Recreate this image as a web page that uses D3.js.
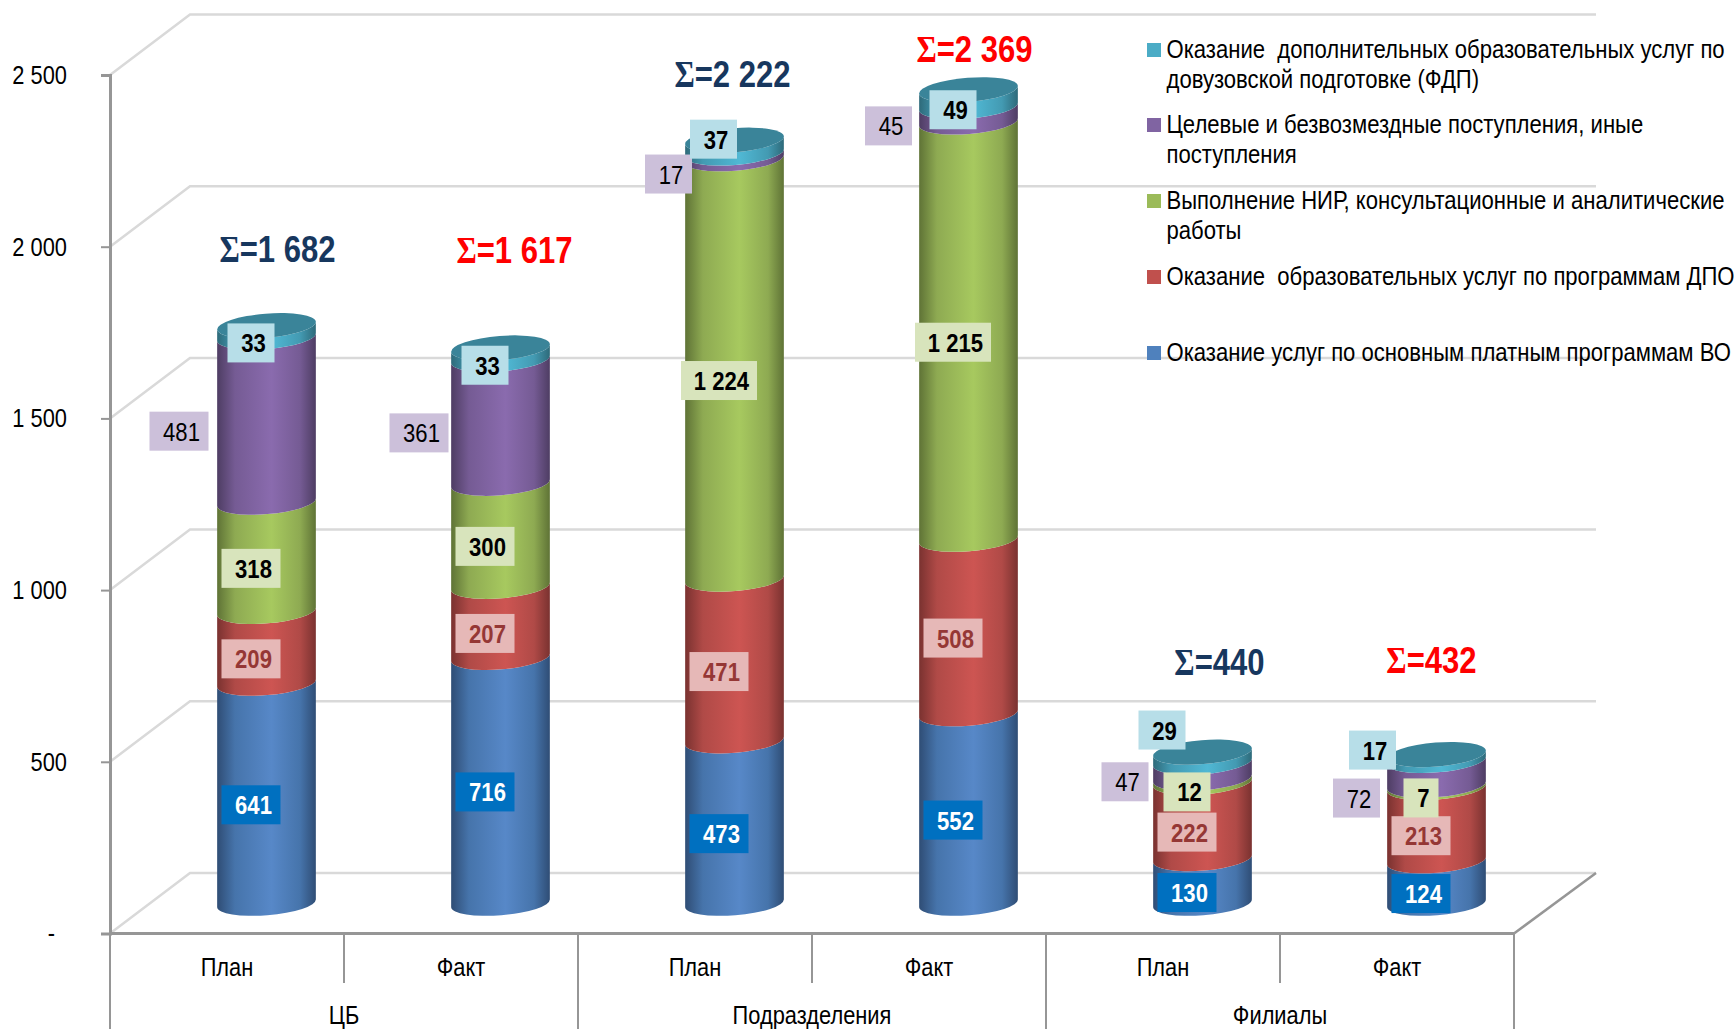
<!DOCTYPE html>
<html>
<head>
<meta charset="utf-8">
<script src="https://cdnjs.cloudflare.com/ajax/libs/d3/7.8.5/d3.min.js"></script>
<style>
    html, body { margin: 0; padding: 0; background: #fff; }
    svg { display: block; }
    text { font-family: "Liberation Sans", Arial, sans-serif; }
</style>
</head>
<body>
<script>
var categories = ['План', 'Факт', 'План', 'Факт', 'План', 'Факт'];
var groups = ['ЦБ', 'Подразделения', 'Филиалы'];
var yTicks = [0, 500, 1000, 1500, 2000, 2500];

// bottom to top
var seriesKeys = ['vo', 'dpo', 'nir', 'other', 'fdp'];
var seriesVo = [641, 716, 473, 552, 130, 124];
var seriesDpo = [209, 207, 471, 508, 222, 213];
var seriesNir = [318, 300, 1224, 1215, 12, 7];
var seriesOther = [481, 361, 17, 45, 47, 72];
var seriesFdp = [33, 33, 37, 49, 29, 17];
var totals = ['1 682', '1 617', '2 222', '2 369', '440', '432'];

// top to bottom, lines as they wrap
var legendLabels = [
    ['Оказание  дополнительных образовательных услуг по', 'довузовской подготовке (ФДП)'],
    ['Целевые и безвозмездные поступления, иные', 'поступления'],
    ['Выполнение НИР, консультационные и аналитические', 'работы'],
    ['Оказание  образовательных услуг по программам ДПО'],
    ['Оказание услуг по основным платным программам ВО']
];

var chartWidth = 1734;
var chartHeight = 1029;
var axisX = 110;
var axisRight = 1514;
var backRight = 1596;
var baseY = 933.5;
var topY = 75;
var depthX = 80;
var depthY = 60.5;
var barRx = 49.5;
var barRy = 12;
var tilt = 4.6;

var colors = {
    vo: { edge: '#2f4d75', mid: '#4674ab', peak: '#5788c8', label: '#0070c0', text: '#fff', weight: 'bold' },
    dpo: { edge: '#7a3230', mid: '#b04a47', peak: '#cd5552', label: '#e6b8b7', text: '#953735', weight: 'bold' },
    nir: { edge: '#5f7336', mid: '#8eaa52', peak: '#a7c95f', label: '#d8e4bc', text: '#000', weight: 'bold' },
    other: { edge: '#4e3d63', mid: '#755b94', peak: '#8a6bae', label: '#ccc0da', text: '#000', weight: 'normal' },
    fdp: { edge: '#2e6a7a', mid: '#439ab2', peak: '#50b8d4', label: '#b7dee8', text: '#000', weight: 'bold' }
};
var legendColors = ['#4bacc6', '#8064a2', '#9bbb59', '#c0504d', '#4f81bd'];
var capColor = '#3a8499';

// hand-moved data labels: series, column, dx, dy from the default place
var labelNudges = [
    ['other', 0, -72, 0], ['other', 1, -66, 0], ['other', 2, -50.5, 6.6], ['other', 3, -64.5, 0],
    ['other', 4, -62, 0], ['other', 5, -64.5, 13.7],
    ['fdp', 2, -5.5, -19], ['fdp', 4, -25, -38.7], ['fdp', 5, -48.5, -19]
];
// where each total sits against the top of its bar
var totalNudges = [[11, -94], [14, -115.5], [-2, -83], [6, -58], [17, -107], [-5, -112]];

// no narrow face installed, so squeeze the regular one around its own x
function narrow(sel, k) {
    sel.attr('transform', function() {
        var tx = +this.getAttribute('x') || 0;
        return 'translate(' + tx + ',0) scale(' + k + ',1) translate(' + (-tx) + ',0)';
    });
}

var rows = categories.map(function(c, i) {
    return { i: i, vo: seriesVo[i], dpo: seriesDpo[i], nir: seriesNir[i], other: seriesOther[i], fdp: seriesFdp[i] };
});
var stacked = d3.stack().keys(seriesKeys)(rows);

var x = d3.scaleBand().domain(d3.range(categories.length)).range([axisX, axisRight]);
var y = d3.scaleLinear().domain([0, 2500]).range([baseY, topY]);

var svg = d3.select('body').append('svg')
    .attr('width', chartWidth)
    .attr('height', chartHeight);

var grads = svg.append('defs').selectAll('linearGradient')
    .data(seriesKeys)
    .enter()
    .append('linearGradient')
    .attr('id', function(d) { return 'grad-' + d; });
grads.append('stop').attr('offset', '0%').attr('stop-color', function(d) { return colors[d].edge; });
grads.append('stop').attr('offset', '18%').attr('stop-color', function(d) { return colors[d].mid; });
grads.append('stop').attr('offset', '55%').attr('stop-color', function(d) { return colors[d].peak; });
grads.append('stop').attr('offset', '84%').attr('stop-color', function(d) { return colors[d].mid; });
grads.append('stop').attr('offset', '100%').attr('stop-color', function(d) { return colors[d].edge; });

// walls
var walls = svg.append('g').attr('fill', 'none').attr('stroke', '#d9d9d9').attr('stroke-width', 2.5);
walls.selectAll('.grid')
    .data(yTicks)
    .enter()
    .append('path')
    .classed('grid', true)
    .attr('d', function(d) {
        return 'M' + axisX + ',' + y(d) + 'L' + (axisX + depthX) + ',' + (y(d) - depthY) + 'L' + backRight + ',' + (y(d) - depthY);
    });

var axis = d3.axisLeft(y)
    .tickValues(yTicks)
    .tickSize(9)
    .tickPadding(34)
    .tickFormat(function(d) {
        if (d === 0) return '-';
        return d3.format(',')(d).replace(',', ' ');
    });
var axisG = svg.append('g').attr('transform', 'translate(' + axisX + ',0)').call(axis);
axisG.select('.domain').attr('stroke', '#969696').attr('stroke-width', 3);
axisG.selectAll('.tick line').attr('stroke', '#969696').attr('stroke-width', 2);
axisG.selectAll('.tick text')
    .attr('fill', '#000')
    .style('font-family', '"Liberation Sans", Arial, sans-serif')
    .style('font-size', '26px')
    .attr('x', function(d) { return d === 0 ? -55 : -43; })
    .call(narrow, 0.84);

// floor edges and category table
var frame = svg.append('g').attr('fill', 'none').attr('stroke', '#969696');
frame.append('path').attr('stroke-width', 3)
    .attr('d', 'M' + axisX + ',' + baseY + 'H' + axisRight);
frame.append('path').attr('stroke-width', 2.5)
    .attr('d', 'M' + axisRight + ',' + baseY + 'L' + backRight + ',' + (baseY - depthY));
frame.selectAll('.sep')
    .data(d3.range(categories.length + 1))
    .enter()
    .append('line')
    .classed('sep', true)
    .attr('stroke-width', 2)
    .attr('x1', function(d) { return axisX + d * x.bandwidth(); })
    .attr('x2', function(d) { return axisX + d * x.bandwidth(); })
    .attr('y1', baseY)
    .attr('y2', function(d) { return d % 2 === 0 ? chartHeight : 983; });

svg.selectAll('.catLabel')
    .data(categories)
    .enter()
    .append('text')
    .classed('catLabel', true)
    .attr('x', function(d, i) { return x(i) + x.bandwidth() / 2; })
    .attr('y', 976)
    .attr('text-anchor', 'middle')
    .style('font-size', '26px')
    .text(function(d) { return d; })
    .call(narrow, 0.84);

svg.selectAll('.groupLabel')
    .data(groups)
    .enter()
    .append('text')
    .classed('groupLabel', true)
    .attr('x', function(d, i) { return axisX + (i + 0.5) * 2 * x.bandwidth(); })
    .attr('y', 1024)
    .attr('text-anchor', 'middle')
    .style('font-size', '26px')
    .text(function(d) { return d; })
    .call(narrow, 0.84);

// cylinders
var rad = tilt * Math.PI / 180;
var ex = barRx * Math.cos(rad);
var ey = barRx * Math.sin(rad);

function barX(i) { return x(i) + x.bandwidth() / 2 + depthX / 2 - 0.5; }
function barY(v) { return y(v) - depthY / 2; }

function slicePath(i, v0, v1) {
    var cx = barX(i);
    var arc = 'A' + barRx + ',' + barRy + ' ' + (-tilt) + ' 0 ';
    return 'M' + (cx - ex) + ',' + (barY(v0) + ey)
        + 'L' + (cx - ex) + ',' + (barY(v1) + ey)
        + arc + '0 ' + (cx + ex) + ',' + (barY(v1) - ey)
        + 'L' + (cx + ex) + ',' + (barY(v0) - ey)
        + arc + '1 ' + (cx - ex) + ',' + (barY(v0) + ey) + 'Z';
}

var layers = svg.selectAll('.layer')
    .data(stacked)
    .enter()
    .append('g')
    .classed('layer', true)
    .attr('fill', function(d) { return 'url(#grad-' + d.key + ')'; });

layers.selectAll('path')
    .data(function(d) { return d; })
    .enter()
    .append('path')
    .attr('d', function(d) { return slicePath(d.data.i, d[0], d[1]); });

svg.selectAll('.cap')
    .data(stacked[stacked.length - 1])
    .enter()
    .append('ellipse')
    .classed('cap', true)
    .attr('rx', barRx)
    .attr('ry', barRy)
    .attr('fill', capColor)
    .attr('transform', function(d) {
        return 'translate(' + barX(d.data.i) + ',' + barY(d[1]) + ') rotate(' + (-tilt) + ')';
    });

// data labels
var labelData = [];
stacked.forEach(function(s) {
    s.forEach(function(d) {
        var nudge = labelNudges.filter(function(n) { return n[0] === s.key && n[1] === d.data.i; })[0];
        labelData.push({
            key: s.key,
            value: d.data[s.key],
            x: barX(d.data.i) - 15.5 + (nudge ? nudge[2] : 0),
            y: barY((d[0] + d[1]) / 2) + 11.6 + (nudge ? nudge[3] : 0)
        });
    });
});

function fmt(v) { return d3.format(',')(v).replace(',', ' '); }
function labelWidth(v) {
    var s = fmt(v);
    return s.length === 1 ? 35 : s.length === 2 ? 47 : s.length === 3 ? 59 : 76;
}

var labels = svg.selectAll('.dataLabel')
    .data(labelData)
    .enter()
    .append('g')
    .classed('dataLabel', true)
    .attr('transform', function(d) { return 'translate(' + d.x + ',' + d.y + ')'; });

labels.append('rect')
    .attr('x', function(d) { return -labelWidth(d.value) / 2; })
    .attr('y', -19.5)
    .attr('width', function(d) { return labelWidth(d.value); })
    .attr('height', 39)
    .attr('fill', function(d) { return colors[d.key].label; });

labels.append('text')
    .attr('y', 9.5)
    .attr('x', 2.5)
    .attr('text-anchor', 'middle')
    .attr('fill', function(d) { return colors[d.key].text; })
    .style('font-size', '26px')
    .style('font-weight', function(d) { return colors[d.key].weight; })
    .text(function(d) { return fmt(d.value); })
    .call(narrow, 0.85);

// totals
var sums = svg.selectAll('.sum')
    .data(totals)
    .enter()
    .append('text')
    .classed('sum', true)
    .attr('x', function(d, i) { return barX(i) + totalNudges[i][0]; })
    .attr('y', function(d, i) {
        var top = d3.sum(seriesKeys, function(k) { return rows[i][k]; });
        return y(top) + totalNudges[i][1];
    })
    .attr('text-anchor', 'middle')
    .attr('fill', function(d, i) { return i % 2 === 0 ? '#17375e' : '#ff0000'; })
    .style('font-size', '37px')
    .style('font-weight', 'bold');
sums.append('tspan').style('font-family', '"Liberation Serif", serif').text('Σ');
sums.append('tspan').text(function(d) { return '=' + d; });
sums.call(narrow, 0.84);

// legend
var legendY = [50, 125, 201, 277, 353];
var legend = svg.selectAll('.legendItem')
    .data(legendLabels)
    .enter()
    .append('g')
    .classed('legendItem', true)
    .attr('transform', function(d, i) { return 'translate(1147,' + legendY[i] + ')'; });

legend.append('rect')
    .attr('y', -7)
    .attr('width', 14)
    .attr('height', 14)
    .attr('fill', function(d, i) { return legendColors[i]; });

legend.selectAll('text')
    .data(function(d) { return d; })
    .enter()
    .append('text')
    .attr('x', 19.5)
    .attr('y', function(d, i) { return 8 + i * 30; })
    .style('font-size', '26px')
    .style('white-space', 'pre')
    .text(function(d) { return d; })
    .call(narrow, 0.85);
</script>
</body>
</html>
